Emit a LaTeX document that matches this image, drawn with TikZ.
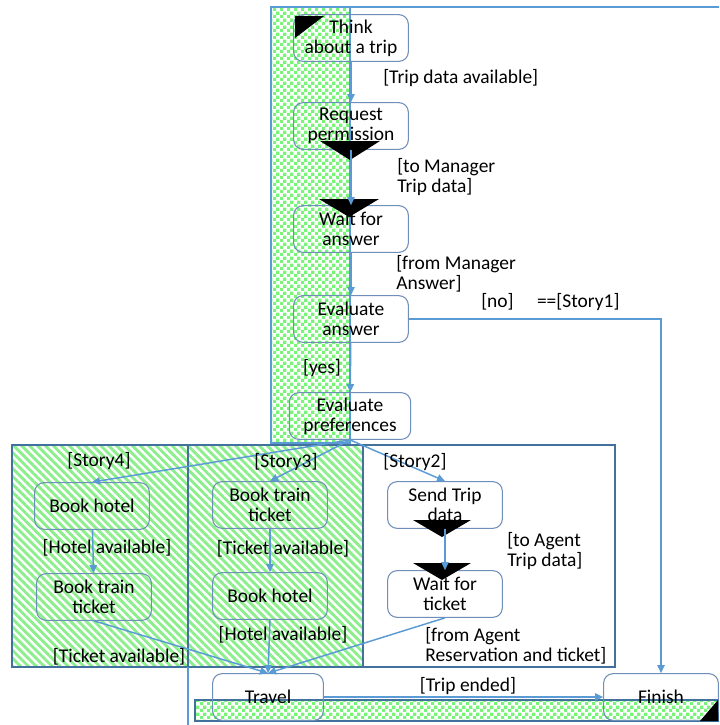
\documentclass[tikz,border=0pt]{standalone}
\usepackage{fontspec}
\setmainfont{Carlito}
\usetikzlibrary{arrows.meta,patterns.meta}

\definecolor{flowblue}{RGB}{91,155,213}
\definecolor{boxline}{RGB}{112,142,186}
\definecolor{laneline}{RGB}{65,113,156}
\definecolor{checkgreen}{RGB}{120,245,120}
\definecolor{hatchgreen}{RGB}{140,238,140}

\tikzdeclarepattern{
  name=checks,
  type=uncolored,
  bottom left={(0pt,0pt)},
  top right={(5pt,5pt)},
  tile size={(5pt,5pt)},
  code={
    \fill (0pt,0pt) rectangle (2.5pt,2.5pt);
    \fill (2.5pt,2.5pt) rectangle (5pt,5pt);
  }
}

\tikzset{
  act/.style={draw=boxline,line width=0.8pt,rounded corners=7pt,minimum width=86pt,minimum height=35pt,align=center,inner sep=1pt},
  lbl/.style={inner sep=0pt,align=left},
  flow/.style={draw=flowblue,line width=1.1pt,-{Triangle[length=6pt,width=5.5pt]}},
  lane/.style={draw=laneline,line width=1.5pt},
  hatch/.style={pattern={Lines[angle=-45,distance=4.2pt,line width=2.2pt]},pattern color=hatchgreen},
  checker/.style={pattern=checks,pattern color=checkgreen}
}

\begin{document}
\begin{tikzpicture}[x=0.75pt,y=-0.75pt,font=\fontsize{14.6}{15}\selectfont]
    \useasboundingbox (0,0) rectangle (719,725);

    \draw[lane,hatch] (12,445) rectangle (188,667);
    \draw[lane,hatch] (188,445) rectangle (363,667);
    \draw[lane] (363,445) rectangle (615,667);

    \draw[draw=flowblue,line width=1pt,checker] (271,7) rectangle (350,443);
    \draw[flowblue,line width=1.6pt] (271,7) -- (719,7);
    \draw[lane,checker] (195,700) rectangle (718,721);
    \draw[flowblue,line width=1pt] (188,667) -- (188,725);

    \node[act] (think) at (351,38) {Think\\about a trip};
    \node[act] (request) at (351,126) {Request\\permission};
    \node[act] (waitans) at (351,229) {Wait for\\answer};
    \node[act] (evalans) at (351,319) {Evaluate\\answer};
    \node[act,minimum width=91pt] (evalpref) at (350,416) {Evaluate\\preferences};

    \node[act] (hotelA) at (92,506) {Book hotel};
    \node[act] (trainA) at (94,597) {Book train\\ticket};
    \node[act] (trainB) at (270,505) {Book train\\ticket};
    \node[act] (hotelB) at (270,596) {Book hotel};
    \node[act] (send) at (445,505) {Send Trip\\data};
    \node[act] (waittk) at (445,594) {Wait for\\ticket};

    \node[act,minimum width=83pt] (travel) at (268,697) {Travel};
    \node[act] (finish) at (661,697) {Finish};

    \fill (295,16) -- (324,16) -- (295,38) -- cycle;
    \fill (320,141) -- (380,141) -- (350,160) -- cycle;
    \fill (319,199) -- (379,199) -- (349,217) -- cycle;
    \fill (413,520) -- (471,520) -- (442,537) -- cycle;
    \fill (413,563) -- (471,563) -- (442,580) -- cycle;
    \fill (700,721) -- (718,721) -- (718,700) -- cycle;

    \draw[flow] (think) -- (request);
    \draw[flow] (request) -- (waitans);
    \draw[flow] (waitans) -- (evalans);
    \draw[flow] (evalans) -- (evalpref);
    \draw[flow] (evalans.east) -| (finish.north);

    \draw[flow] (evalpref.south) -- (hotelA.north);
    \draw[flow] (evalpref.south) -- (trainB.north);
    \draw[flow] (evalpref.south) -- (send.north);

    \draw[flow] (hotelA) -- (trainA);
    \draw[flow] (trainB) -- (hotelB);
    \draw[flow] (send) -- (waittk);

    \draw[flow] (trainA.south) -- (travel.north);
    \draw[flow] (hotelB.south) -- (travel.north);
    \draw[flow] (waittk.south) -- (travel.north);
    \draw[flow] (travel) -- (finish);

    \node[lbl,anchor=west] (l1) at (383,78) {[Trip data available]};
    \node[lbl,anchor=west] (l2) at (397,177) {[to Manager\\Trip data]};
    \node[lbl,anchor=west] (l3) at (396,274) {[from Manager\\Answer]};
    \node[lbl] (l4) at (322,368) {[yes]};
    \node[lbl,anchor=west] (l5) at (481,302) {[no]\hspace{1.2em}==[Story1]};

    \node[lbl] (s4) at (99,461) {[Story4]};
    \node[lbl] (s3) at (286,462) {[Story3]};
    \node[lbl] (s2) at (415,462) {[Story2]};

    \node[lbl] (l6) at (107,548) {[Hotel available]};
    \node[lbl] (l7) at (283,549) {[Ticket available]};
    \node[lbl,anchor=west] (l8) at (507,551) {[to Agent\\Trip data]};

    \node[lbl] (l9) at (119,657) {[Ticket available]};
    \node[lbl] (l10) at (283,635) {[Hotel available]};
    \node[lbl,anchor=west] (l11) at (425,646) {[from Agent\\Reservation and ticket]};
    \node[lbl] (l12) at (468,686) {[Trip ended]};

\end{tikzpicture}
\end{document}
